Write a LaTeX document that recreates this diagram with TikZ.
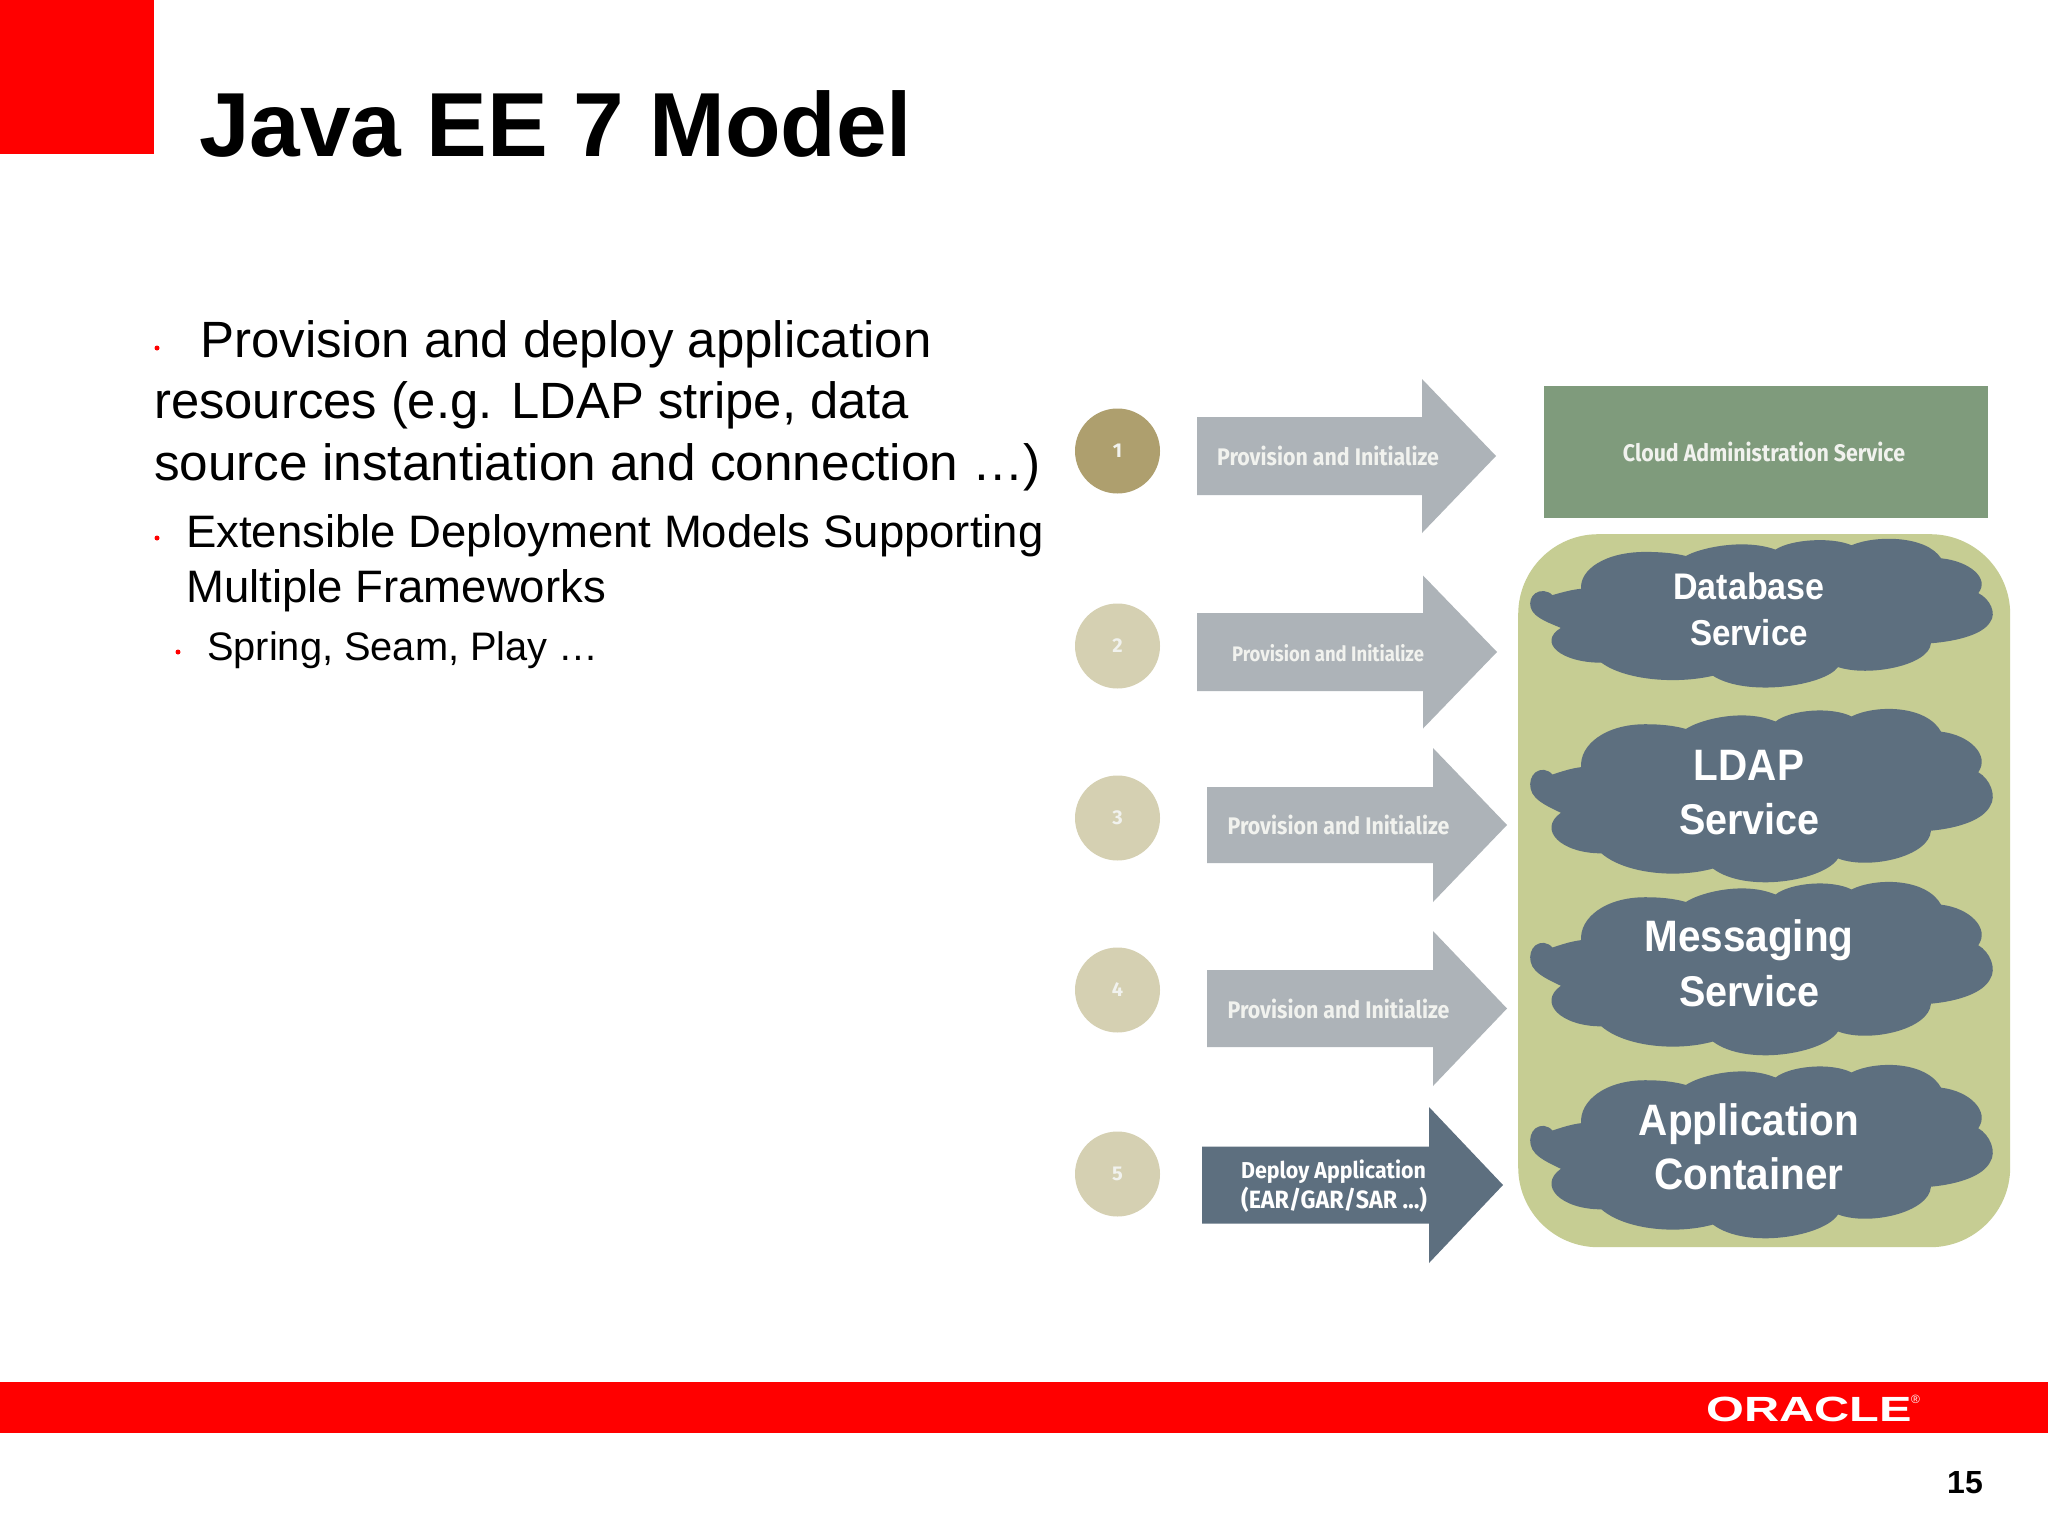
\documentclass[tikz,border=0pt]{standalone}
\usepackage{fontspec}
\setmainfont{Liberation Sans}
\newfontfamily\dinfont{Fira Sans}
\newcommand{\px}[1]{\fontsize{#1}{#1}\selectfont}
\definecolor{oraclered}{HTML}{FF0000}
\definecolor{arrowgrey}{HTML}{ADB3B8}
\definecolor{slateblue}{HTML}{5D6F7F}
\definecolor{stepdark}{HTML}{AE9F6E}
\definecolor{steplight}{HTML}{D5D0B2}
\definecolor{admingreen}{HTML}{7F9B7C}
\definecolor{containergreen}{HTML}{C6CD93}
\definecolor{lighttext}{HTML}{F1F2EE}
\tikzset{
  body/.style={anchor=base west,inner sep=0pt,text=black},
  bulletdot/.style={circle,fill=oraclered,inner sep=0pt,minimum size=5pt},
  stepcircle/.style={circle,inner sep=0pt,minimum size=85pt,text=lighttext,font=\dinfont\bfseries\px{20}},
  arrowtext/.style={inner sep=0pt,text=lighttext,transform shape,xscale=.89,font=\dinfont\bfseries\px{24}},
  cloudtext/.style={inner sep=0pt,text=white,align=center,transform shape,xscale=.92,font=\bfseries\px{#1}},
}
% tail x, shaft end x, tip x, centre y, half shaft, half head, colour
\newcommand{\flowarrow}[7]{%
  \fill[#7] (#1,#4-#5) -- (#2,#4-#5) -- (#2,#4-#6) -- (#3,#4) -- (#2,#4+#6) -- (#2,#4+#5) -- (#1,#4+#5) -- cycle;}
\newcommand{\cloudshape}[2]{%
  \begin{scope}[shift={(1500,#1)},x=.338pt,y=-#2pt]
  \fill[slateblue] (155,197) .. controls (190,185) and (215,178) .. (240,175)
   .. controls (235,110) and (310,48) .. (430,48) .. controls (475,48) and (515,52) .. (550,62)
   .. controls (590,35) and (720,0) .. (815,40)
   .. controls (860,5) and (980,-5) .. (1040,25)
   .. controls (1110,-10) and (1260,-10) .. (1305,70)
   .. controls (1390,80) and (1450,140) .. (1415,190)
   .. controls (1450,210) and (1470,260) .. (1450,290) .. controls (1430,330) and (1360,355) .. (1275,363)
   .. controls (1270,440) and (1090,480) .. (1000,445)
   .. controls (960,510) and (730,550) .. (630,475)
   .. controls (520,505) and (370,490) .. (300,430)
   .. controls (180,430) and (110,360) .. (180,310)
   .. controls (150,295) and (125,285) .. (105,265) .. controls (75,235) and (90,180) .. (130,183)
   .. controls (140,184) and (150,190) .. (155,197) -- cycle;
  \end{scope}}
\begin{document}
\begin{tikzpicture}[x=1pt,y=-1pt]
\useasboundingbox (0,0) rectangle (2048,1536);
\fill[white] (0,0) rectangle (2048,1536);
% frame
\node[fill=oraclered,minimum width=154pt,minimum height=154pt,inner sep=0pt,anchor=north west] (corner) at (0,0) {};
\node[fill=oraclered,minimum width=2048pt,minimum height=51pt,inner sep=0pt,anchor=north west] (bar) at (0,1382) {};
\node[body,font=\bfseries\px{91}] (title) at (199,157) {Java EE 7 Model};
\node[body,text=white,font=\bfseries\px{35},transform shape,xscale=1.39] (oracle) at (1706,1421) {ORACLE};
\node[body,text=white,font=\px{12}] (reg) at (1911,1403) {®};
\node[body,font=\bfseries\px{32}] (page) at (1947,1493) {15};
% bullets
\node[bulletdot] (b1) at (157,348) {};
\node[bulletdot] (b2) at (157,538) {};
\node[bulletdot] (b3) at (178,652) {};
\node[body,font=\px{51}] (t1) at (200,357) {Provision and deploy application};
\node[body,font=\px{51},transform shape,xscale=.995] (t2) at (154,418) {resources (e.g. LDAP stripe, data};
\node[body,font=\px{51},transform shape,xscale=1.006] (t3) at (154,480) {source instantiation and connection …)};
\node[body,font=\px{45.5}] (t4) at (186,547) {Extensible Deployment Models Supporting};
\node[body,font=\px{45.5}] (t5) at (186,602) {Multiple Frameworks};
\node[body,font=\px{39.8}] (t6) at (207,660) {Spring, Seam, Play …};
% steps
\node[stepcircle,fill=stepdark] (c1) at (1117.5,451) {1};
\node[stepcircle,fill=steplight] (c2) at (1117.5,646) {2};
\node[stepcircle,fill=steplight] (c3) at (1117.5,818) {3};
\node[stepcircle,fill=steplight] (c4) at (1117.5,990) {4};
\node[stepcircle,fill=steplight] (c5) at (1117.5,1174) {5};
% arrows
\flowarrow{1197}{1422}{1496}{456}{39}{77}{arrowgrey}
\flowarrow{1197}{1423}{1497}{652}{39}{76.5}{arrowgrey}
\flowarrow{1207}{1433}{1507}{825}{38}{77}{arrowgrey}
\flowarrow{1207}{1433}{1507}{1008.5}{38.5}{77.5}{arrowgrey}
\flowarrow{1202}{1429}{1503}{1185}{38.5}{78}{slateblue}
\node[arrowtext] (a1) at (1328,456) {Provision and Initialize};
\node[arrowtext,xscale=.88/.89,font=\dinfont\bfseries\px{21}] (a2) at (1328,653) {Provision and Initialize};
\node[arrowtext] (a3) at (1338.5,825) {Provision and Initialize};
\node[arrowtext] (a4) at (1338.5,1009) {Provision and Initialize};
\node[arrowtext,text=white,xscale=1.045,font=\dinfont\bfseries\px{23},align=left,anchor=west] (a5) at (1241,1186) {Deploy Application\\[3pt]{\px{25}(EAR/GAR/SAR …)}};
% services
\node[fill=admingreen,minimum width=444pt,minimum height=132pt,inner sep=0pt,anchor=north west] (admin) at (1544,386) {};
\node[arrowtext] (admintext) at (1764,452) {Cloud Administration Service};
\node[fill=containergreen,rounded corners=80pt,minimum width=492pt,minimum height=713pt,inner sep=0pt,anchor=north west] (container) at (1518,534) {};
\cloudshape{538}{.29}
\cloudshape{708}{.338}
\cloudshape{881}{.338}
\cloudshape{1064}{.338}
\node[cloudtext=37] (db1) at (1749,586) {Database};
\node[cloudtext=36] (db2) at (1749,633) {Service};
\node[cloudtext=44] (ld1) at (1749,765) {LDAP};
\node[cloudtext=43] (ld2) at (1749.5,819) {Service};
\node[cloudtext=44] (ms1) at (1749,940) {Messaging};
\node[cloudtext=43] (ms2) at (1749.5,991) {Service};
\node[cloudtext=44] (ap1) at (1749,1124) {Application};
\node[cloudtext=44] (ap2) at (1749,1174) {Container};
\end{tikzpicture}
\end{document}
